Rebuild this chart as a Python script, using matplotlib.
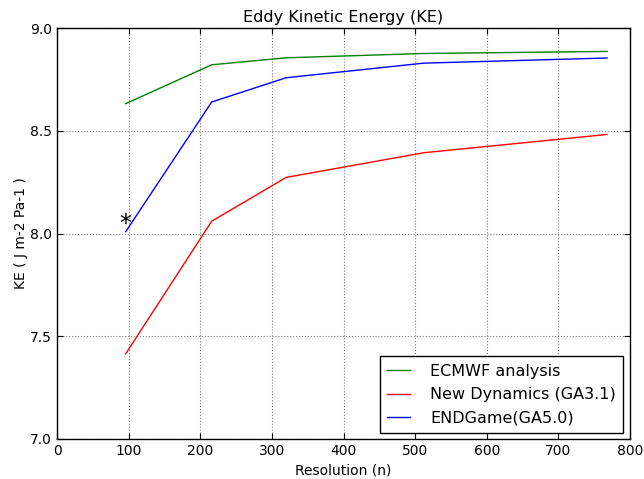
import matplotlib
matplotlib.use("Agg")
import matplotlib.pyplot as plt

resolution = [96, 216, 320, 512, 768]
ecmwf = [8.632, 8.821, 8.855, 8.876, 8.886]
new_dynamics = [7.415, 8.060, 8.273, 8.393, 8.482]
endgame = [8.009, 8.640, 8.758, 8.829, 8.854]
star_x, star_y = 95, 8.045

fig = plt.figure(figsize=(6.44, 4.79), dpi=100)
ax = fig.add_axes([57 / 644, 40 / 479, 573 / 644, 411 / 479])
ax.plot(resolution, ecmwf, color=(0, 0.5, 0), lw=1, label='ECMWF analysis')
ax.plot(resolution, new_dynamics, color=(1, 0, 0), lw=1, label='New Dynamics (GA3.1)')
ax.plot(resolution, endgame, color=(0, 0, 1), lw=1, label='ENDGame(GA5.0)')
ax.text(star_x, star_y, '*', fontsize=17, ha='center', va='center')
ax.set_xlim(0, 800)
ax.set_ylim(7.0, 9.0)
ax.set_xticks(range(0, 801, 100))
ax.set_yticks([7.0, 7.5, 8.0, 8.5, 9.0])
ax.set_yticklabels(['7.0', '7.5', '8.0', '8.5', '9.0'])
ax.grid(True, linestyle=':', color='gray', lw=0.8)
ax.tick_params(direction='in', labelsize=10, length=4, top=True, right=True)
for s in ax.spines.values():
    s.set_linewidth(1)
ax.set_title('Eddy Kinetic Energy (KE)', fontsize=11.6, pad=4)
ax.set_xlabel('Resolution (n)', fontsize=10)
ax.set_ylabel('KE ( J m-2 Pa-1 )', fontsize=10, labelpad=1.8)
leg = ax.legend(loc='lower right', bbox_to_anchor=((623 - 57) / 573, 6 / 411),
                borderaxespad=0, fontsize=11.5, fancybox=False, framealpha=1,
                edgecolor='black', handlelength=1.45, handletextpad=1.25,
                labelspacing=0.54, borderpad=0.45)
leg.get_frame().set_linewidth(1)
fig.savefig('out.png', dpi=100)
